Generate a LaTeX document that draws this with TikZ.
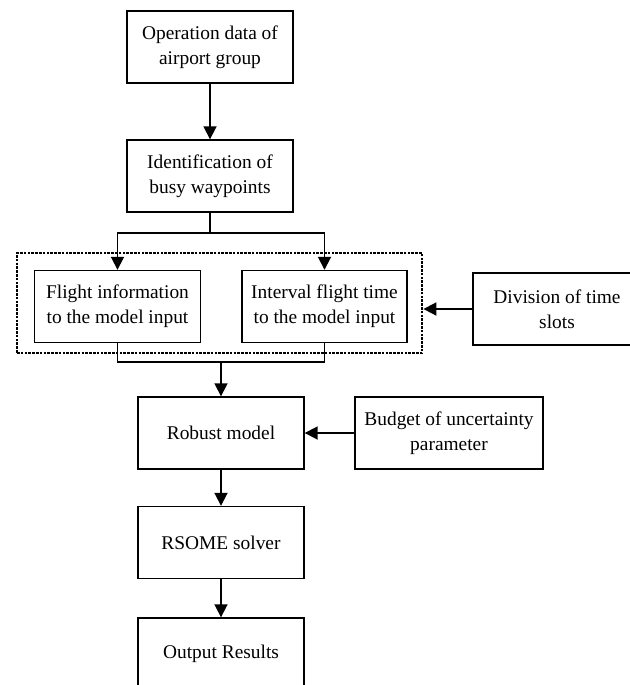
\documentclass[tikz,border=0pt]{standalone}
\usepackage{fontspec}
\setmainfont{Liberation Serif}
\usetikzlibrary{arrows.meta}
\begin{document}
\begin{tikzpicture}[x=0.5pt,y=-0.5pt,
	box/.style={draw,line width=0.7pt,minimum width=83pt,minimum height=36pt,align=center,inner sep=0pt,font=\fontsize{9.7}{12.5}\selectfont},
	link/.style={line width=0.9pt},
	arr/.style={link,-{Triangle[length=6.5pt,width=6.5pt]}}]
	\useasboundingbox (0,0) rectangle (630,685);
	\node[box] (data) at (210,47) {Operation data of\\airport group};
	\node[box] (ident) at (210,176) {Identification of\\busy waypoints};
	\node[draw,line width=1.4pt,dash pattern=on 1.3pt off 0.6pt,minimum width=202.5pt,minimum height=50pt] (grp) at (219.5,303) {};
	\node[box] (flight) at (117.5,306.5) {Flight information\\to the model input};
	\node[box,minimum width=82.5pt] (interval) at (324.5,306.5) {Interval flight time\\to the model input};
	\node[box,minimum width=84pt] (division) at (557,309) {Division of time\\slots};
	\node[box] (robust) at (221,433) {Robust model};
	\node[box,minimum width=94pt] (budget) at (449,433) {Budget of uncertainty\\parameter};
	\node[box] (solver) at (221,542.5) {RSOME solver};
	\node[box] (output) at (221,654) {Output Results};
	\coordinate (split) at (210,233);
	\coordinate (merge) at (221,362);
	\draw[arr] (data.south) -- (ident.south |- ident.north);
	\draw[arr] (ident.south) -- (split) -| (flight.north);
	\draw[arr] (split) -| (interval.north);
	\draw[link] (flight.south) |- (merge) -| (interval.south);
	\draw[arr] (merge) -- (robust.north);
	\draw[arr] (division.west) -- (division.west -| grp.east);
	\draw[arr] (budget.west) -- (robust.east);
	\draw[arr] (robust.south) -- (solver.north);
	\draw[arr] (solver.south) -- (output.north);
\end{tikzpicture}
\end{document}
